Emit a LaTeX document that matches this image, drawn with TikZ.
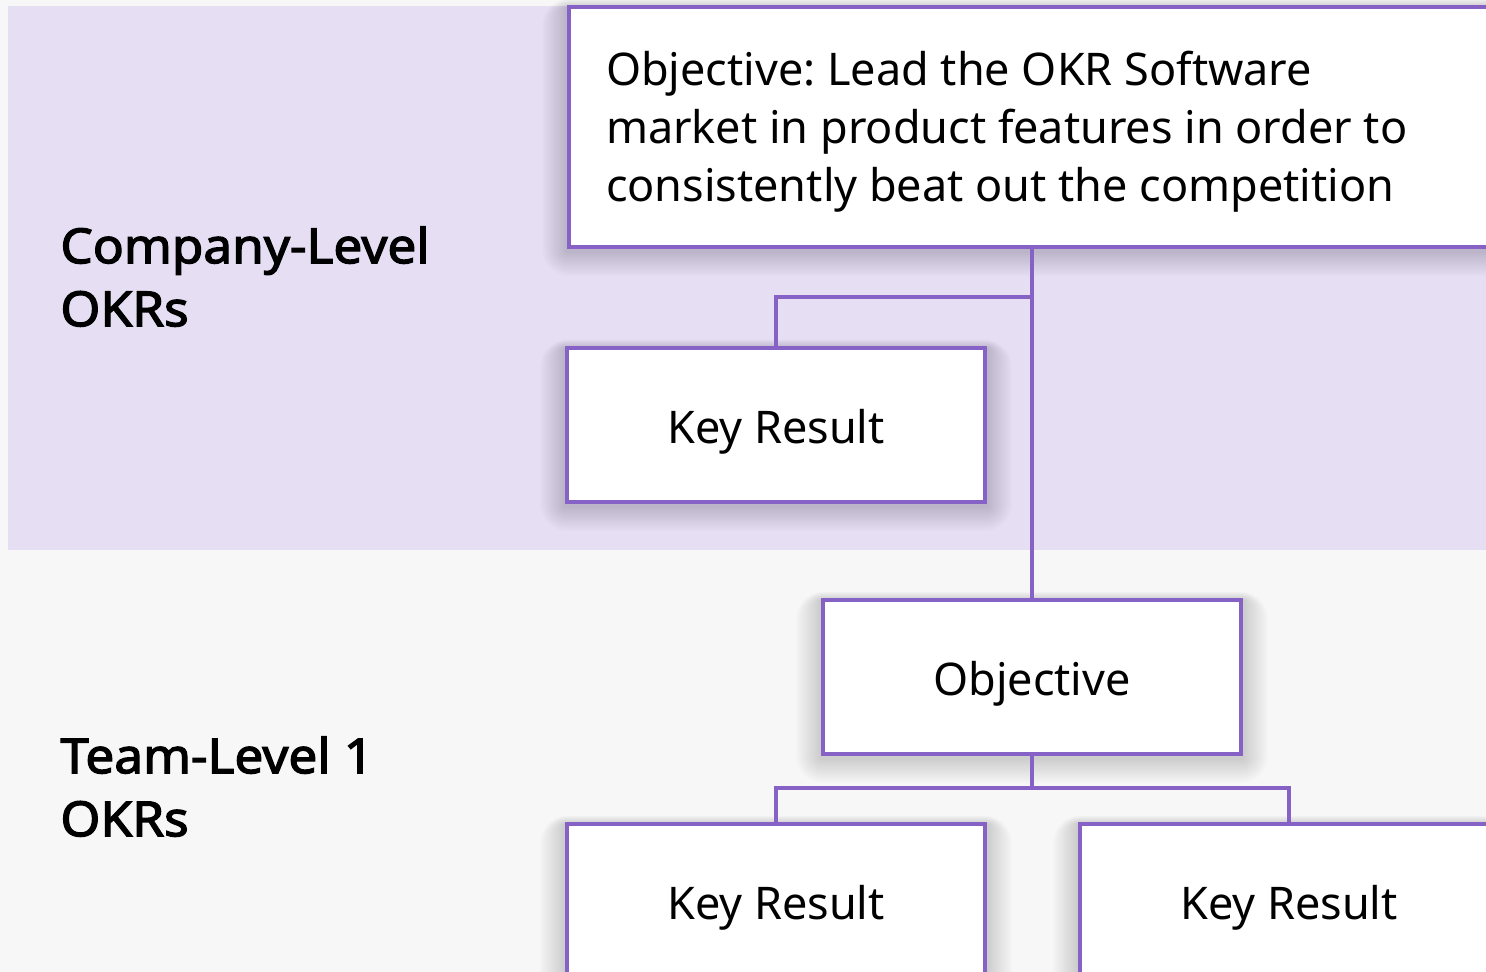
\documentclass[tikz,border=0pt]{standalone}
\usepackage{fontspec}
\setmainfont{Noto Sans}
\newfontfamily\lblfont{Noto Sans}[FakeBold=2.6, FakeStretch=1.06]
\frenchspacing
\definecolor{okrpurple}{HTML}{8762C6}
\definecolor{band}{HTML}{E6DFF3}
\definecolor{bg}{HTML}{F7F7F7}
\pgfdeclarelayer{back}
\pgfdeclarelayer{shade}
\pgfsetlayers{back,shade,main}
\newcommand{\lowertext}[1]{\raisebox{-3.5pt}[\height][\depth]{#1}}
\newcommand{\softshadow}[1]{%
  \begin{pgfonlayer}{shade}
    \foreach \i in {1,...,14}{%
      \fill[black, opacity=0.01, rounded corners=\i pt]
        ([xshift=-0.9*\i pt, yshift=-1pt+0.3*\i pt]#1.north west) rectangle ([xshift=0.9*\i pt, yshift=-1pt-0.9*\i pt]#1.south east);
    }
  \end{pgfonlayer}}
\tikzset{
  okrbox/.style={draw=okrpurple, line width=2pt, fill=white, rectangle,
    font=\fontsize{22.5}{29}\selectfont, text=black},
  smallbox/.style={okrbox, minimum width=209pt, minimum height=77pt, inner sep=0pt},
  conn/.style={draw=okrpurple, line width=2pt},
  level/.style={font=\lblfont\fontsize{24.2}{31.5}\selectfont, align=left, anchor=north west, inner sep=0pt, text=black}
}
\begin{document}
\begin{tikzpicture}[x=0.5pt,y=-0.5pt]
\useasboundingbox (0,0) rectangle (1486,972);
\clip (0,0) rectangle (1486,972);
\begin{pgfonlayer}{back}
\fill[bg] (0,0) rectangle (1486,972);
\fill[band] (8,6) rectangle (1486,550);
\end{pgfonlayer}

\node[level] (lc) at (60,226) {Company-Level\\OKRs};
\node[level] (lt) at (60,736) {Team-Level 1\\OKRs};

\node[okrbox, anchor=north west, minimum width=466pt, minimum height=120pt, inner xsep=18.5pt, inner ysep=0pt, align=left] (obj1) at (567,5)
  {\raisebox{-2.5pt}[\height][\depth]{\parbox{429pt}{\raggedright Objective: Lead the OKR Software\\market in product features in order to\\consistently beat out the competition}}};

\node[smallbox] (kr1) at (776,425) {\lowertext{Key Result}};
\node[smallbox] (obj2) at (1032,677) {\lowertext{Objective}};
\node[smallbox, anchor=north] (kr2) at (776,822) {\lowertext{Key Result}};
\node[smallbox, anchor=north] (kr3) at (1289,822) {\lowertext{Key Result}};

\softshadow{obj1}
\softshadow{kr1}
\softshadow{obj2}
\softshadow{kr2}
\softshadow{kr3}

\coordinate (j1) at (1032,297);
\coordinate (j2) at (1032,788);
\draw[conn] (obj1.south -| obj2.north) -- (obj2.north);
\draw[conn] (kr1.north) |- (j1);
\draw[conn] (obj2.south) -- (j2);
\draw[conn] (kr2.north) |- (j2) -| (kr3.north);
\end{tikzpicture}
\end{document}
